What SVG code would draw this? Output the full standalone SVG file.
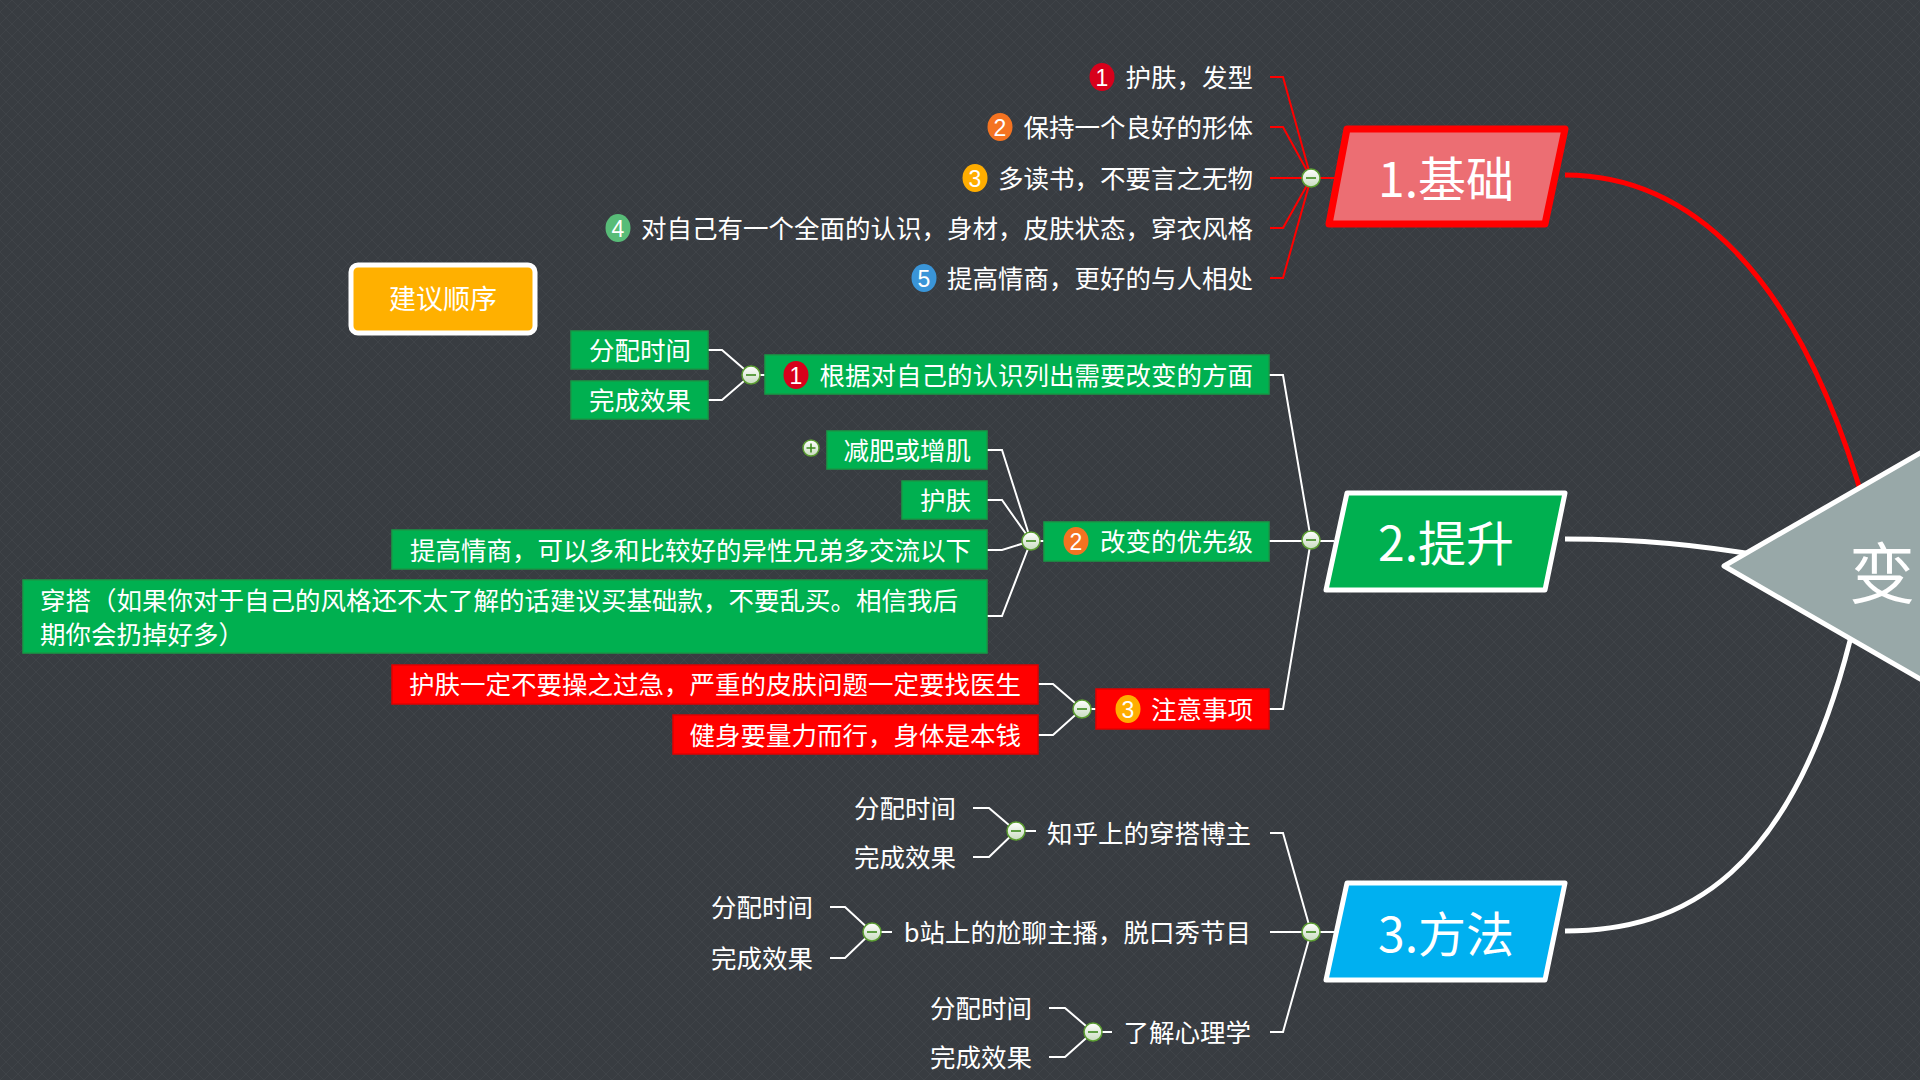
<svg xmlns="http://www.w3.org/2000/svg" xmlns:xlink="http://www.w3.org/1999/xlink" width="1920" height="1080" viewBox="0 0 1920 1080">
<style>
text{font-family:"Noto Sans CJK SC","Noto Sans",sans-serif;fill:#ffffff;}
.t{font-size:25.5px;dominant-baseline:central;baseline-shift:1.5px;}
.e{text-anchor:end;}
.b{font-size:23px;text-anchor:middle;dominant-baseline:central;font-family:"Liberation Sans","Noto Sans",sans-serif;}
.main{font-size:48px;text-anchor:middle;dominant-baseline:central;}
.ln{fill:none;stroke:#ffffff;stroke-width:2;}
.lr{fill:none;stroke:#ff0000;stroke-width:2;}
.g{fill:#00b050;stroke:#169a45;stroke-width:1.5;}
.r{fill:#ff0000;stroke:#e00000;stroke-width:1.5;}
</style>
<defs>
<pattern id="bg" width="12" height="12" patternUnits="userSpaceOnUse">
<rect width="12" height="12" fill="#383c41"/>
<path d="M0,0 L12,12 M12,0 L0,12" stroke="#3f4348" stroke-width="1"/>
</pattern>
<linearGradient id="cg" x1="0" y1="0" x2="0" y2="1">
<stop offset="0" stop-color="#ffffff"/>
<stop offset="1" stop-color="#c9dcc0"/>
</linearGradient>
<g id="cm"><circle r="9" fill="url(#cg)" stroke="#5c9e32" stroke-width="1.5"/><path d="M-5,0 H5" stroke="#3d8a1c" stroke-width="1.6"/></g>
<g id="cp"><circle r="8" fill="url(#cg)" stroke="#5c9e32" stroke-width="1.5"/><path d="M-4.5,0 H4.5 M0,-4.5 V4.5" stroke="#3d8a1c" stroke-width="1.6"/></g>
</defs>
<rect width="1920" height="1080" fill="url(#bg)"/>

<g id="connectors">
<path d="M1565,175 C1680,175 1800,260 1870,525" fill="none" stroke="#ff0000" stroke-width="5"/>
<path d="M1565,539 C1640,539 1700,545 1770,557" fill="none" stroke="#ffffff" stroke-width="5"/>
<path d="M1565,931 C1680,931 1795,880 1855,620" fill="none" stroke="#ffffff" stroke-width="5"/>
<path class="lr" d="M1270,77 H1283 L1311,178 M1270,127 H1283 L1311,178 M1270,178 H1336 M1270,228 H1283 L1311,178 M1270,278 H1283 L1311,178"/>
<path class="ln" d="M1269,375 H1283 L1311,540 M1269,541 H1334 M1269,709 H1283 L1311,540"/>
<path class="ln" d="M708,350 H722 L751,375 M708,400 H722 L751,375 M751,375 H765"/>
<path class="ln" d="M987,450 H1002 L1031,541 M987,500 H1002 L1031,541 M987,550 H1002 L1031,541 M987,616 H1002 L1031,541 M1031,541 H1044"/>
<path class="ln" d="M1038,684 H1053 L1082,709 M1038,735 H1053 L1082,709 M1082,709 H1096"/>
<path class="ln" d="M1270,833 H1283 L1311,932 M1270,932 H1334 M1270,1032 H1283 L1311,932"/>
<path class="ln" d="M973,808 H989 L1016,831 M973,857 H989 L1016,831 M1016,831 H1036"/>
<path class="ln" d="M830,907 H845 L872,932 M830,958 H845 L872,932 M872,932 H892"/>
<path class="ln" d="M1049,1008 H1065 L1093,1032 M1049,1057 H1065 L1093,1032 M1093,1032 H1112"/>
<use xlink:href="#cm" x="1311" y="178"/>
<use xlink:href="#cm" x="1311" y="540"/>
<use xlink:href="#cm" x="1311" y="932"/>
<use xlink:href="#cm" x="751" y="375"/>
<use xlink:href="#cm" x="1031" y="541"/>
<use xlink:href="#cm" x="1082" y="709"/>
<use xlink:href="#cm" x="1016" y="831"/>
<use xlink:href="#cm" x="872" y="932"/>
<use xlink:href="#cm" x="1093" y="1032"/>
<use xlink:href="#cp" x="811" y="448"/>
</g>

<g id="center">
<polygon points="1724,566 1960,430 1960,702" fill="#98a8a8" stroke="#ffffff" stroke-width="5" stroke-linejoin="round"/>
<text x="1882" y="569" style="font-size:66px;dominant-baseline:central;text-anchor:middle">变</text>
</g>

<g id="n1">
<polygon points="1347,129 1565,129 1545,224 1329,224" fill="#ec6e73" stroke="#ff0000" stroke-width="7" stroke-linejoin="round"/>
<text class="main" x="1446" y="176">1.基础</text>
</g>
<g id="n2">
<polygon points="1347,493 1565,493 1545,590 1326,590" fill="#00b050" stroke="#ffffff" stroke-width="5" stroke-linejoin="round"/>
<text class="main" x="1446" y="540">2.提升</text>
</g>
<g id="n3">
<polygon points="1347,883 1565,883 1545,980 1326,980" fill="#00b0f0" stroke="#ffffff" stroke-width="5" stroke-linejoin="round"/>
<text class="main" x="1446" y="931">3.方法</text>
</g>

<g id="n1-1"><ellipse cx="1102" cy="77" rx="12.5" ry="14" fill="#d7001b"/><text class="b" x="1102" y="78">1</text><text class="t e" x="1253" y="77">护肤，发型</text></g>
<g id="n1-2"><ellipse cx="1000" cy="127" rx="12.5" ry="14" fill="#f47321"/><text class="b" x="1000" y="128">2</text><text class="t e" x="1253" y="127">保持一个良好的形体</text></g>
<g id="n1-3"><ellipse cx="975" cy="178" rx="12.5" ry="14" fill="#ffad00"/><text class="b" x="975" y="179">3</text><text class="t e" x="1253" y="178">多读书，不要言之无物</text></g>
<g id="n1-4"><ellipse cx="618" cy="228" rx="12.5" ry="14" fill="#58bc78"/><text class="b" x="618" y="229">4</text><text class="t e" x="1253" y="228">对自己有一个全面的认识，身材，皮肤状态，穿衣风格</text></g>
<g id="n1-5"><ellipse cx="924" cy="278" rx="12.5" ry="14" fill="#3a95d8"/><text class="b" x="924" y="279">5</text><text class="t e" x="1253" y="278">提高情商，更好的与人相处</text></g>

<g id="note">
<rect x="351" y="265" width="184" height="68" rx="7" fill="#ffb000" stroke="#ffffff" stroke-width="5"/>
<text class="t" x="443" y="299" style="text-anchor:middle;font-size:27px">建议顺序</text>
</g>

<g id="n2-1"><rect class="g" x="765" y="355" width="504" height="39"/><ellipse cx="796" cy="375" rx="12.5" ry="14" fill="#d7001b"/><text class="b" x="796" y="376">1</text><text class="t e" x="1253" y="375">根据对自己的认识列出需要改变的方面</text></g>
<g id="n2-1-1"><rect class="g" x="571" y="331" width="137" height="38"/><text class="t e" x="691" y="350">分配时间</text></g>
<g id="n2-1-2"><rect class="g" x="571" y="381" width="137" height="38"/><text class="t e" x="691" y="400">完成效果</text></g>

<g id="n2-2"><rect class="g" x="1044" y="522" width="225" height="39"/><ellipse cx="1076" cy="541" rx="12.5" ry="14" fill="#f47321"/><text class="b" x="1076" y="542">2</text><text class="t e" x="1253" y="541">改变的优先级</text></g>
<g id="n2-2-1"><rect class="g" x="827" y="431" width="160" height="38"/><text class="t e" x="971" y="450">减肥或增肌</text></g>
<g id="n2-2-2"><rect class="g" x="902" y="481" width="85" height="38"/><text class="t e" x="971" y="500">护肤</text></g>
<g id="n2-2-3"><rect class="g" x="392" y="530" width="595" height="39"/><text class="t e" x="971" y="550">提高情商，可以多和比较好的异性兄弟多交流以下</text></g>
<g id="n2-2-4"><rect class="g" x="23" y="580" width="964" height="73"/><text class="t" x="40" y="600">穿搭（如果你对于自己的风格还不太了解的话建议买基础款，不要乱买。相信我后</text><text class="t" x="40" y="634">期你会扔掉好多）</text></g>

<g id="n2-3"><rect class="r" x="1096" y="689" width="173" height="40"/><ellipse cx="1128" cy="709" rx="12.5" ry="14" fill="#ffad00"/><text class="b" x="1128" y="710">3</text><text class="t e" x="1253" y="709">注意事项</text></g>
<g id="n2-3-1"><rect class="r" x="392" y="665" width="646" height="39"/><text class="t e" x="1021" y="684">护肤一定不要操之过急，严重的皮肤问题一定要找医生</text></g>
<g id="n2-3-2"><rect class="r" x="673" y="715" width="365" height="39"/><text class="t e" x="1021" y="735">健身要量力而行，身体是本钱</text></g>

<g id="n3-1"><text class="t e" x="1251" y="833">知乎上的穿搭博主</text></g>
<g id="n3-1-1"><text class="t e" x="956" y="808">分配时间</text></g>
<g id="n3-1-2"><text class="t e" x="956" y="857">完成效果</text></g>
<g id="n3-2"><text class="t e" x="1251" y="932">b站上的尬聊主播，脱口秀节目</text></g>
<g id="n3-2-1"><text class="t e" x="813" y="907">分配时间</text></g>
<g id="n3-2-2"><text class="t e" x="813" y="958">完成效果</text></g>
<g id="n3-3"><text class="t e" x="1251" y="1032">了解心理学</text></g>
<g id="n3-3-1"><text class="t e" x="1032" y="1008">分配时间</text></g>
<g id="n3-3-2"><text class="t e" x="1032" y="1057">完成效果</text></g>
</svg>
